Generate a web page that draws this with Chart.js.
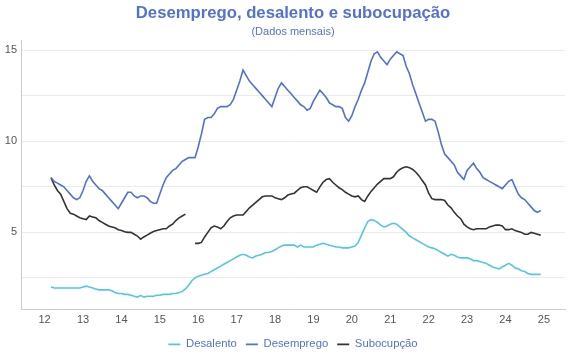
<!DOCTYPE html>
<html>
<head>
<meta charset="utf-8">
<script src="https://cdn.jsdelivr.net/npm/chart.js@4/dist/chart.umd.min.js"></script>
<style>
  html, body { margin: 0; padding: 0; background: #fff; }
  #wrap { width: 570px; height: 360px; position: relative; }
</style>
</head>
<body>
<div id="wrap"><canvas id="chart"></canvas></div>
<script>
// monthly series, Mar 2012 .. Dec 2024
const firstYear = 2012
const firstMonth = 3

const desalento = [
  2.0, 1.95, 1.95, 1.95, 1.95, 1.95, 1.95, 1.95, 1.95, 1.95,                  // 2012
  2.0, 2.05, 2.0, 1.95, 1.9, 1.85, 1.85, 1.85, 1.85, 1.8, 1.7, 1.65,          // 2013
  1.65, 1.6, 1.6, 1.55, 1.5, 1.45, 1.55, 1.45, 1.5, 1.5, 1.5, 1.55,           // 2014
  1.55, 1.6, 1.6, 1.6, 1.65, 1.65, 1.7, 1.75, 1.9, 2.1, 2.35, 2.5,            // 2015
  2.6, 2.65, 2.7, 2.75, 2.85, 2.95, 3.05, 3.15, 3.25, 3.35, 3.45, 3.55,       // 2016
  3.65, 3.75, 3.8, 3.75, 3.65, 3.6, 3.7, 3.75, 3.8, 3.9, 3.9, 3.95,           // 2017
  4.05, 4.15, 4.25, 4.3, 4.3, 4.3, 4.3, 4.2, 4.3, 4.2, 4.2, 4.2,              // 2018
  4.2, 4.3, 4.35, 4.4, 4.35, 4.3, 4.25, 4.2, 4.2, 4.15, 4.15, 4.15,           // 2019
  4.2, 4.25, 4.45, 4.85, 5.25, 5.6, 5.7, 5.65, 5.55, 5.4, 5.3, 5.35,          // 2020
  5.45, 5.5, 5.45, 5.3, 5.15, 5.0, 4.8, 4.7, 4.6, 4.5, 4.4, 4.3,              // 2021
  4.2, 4.15, 4.1, 4.0, 3.9, 3.8, 3.7, 3.8, 3.75, 3.65, 3.6, 3.6,              // 2022
  3.6, 3.55, 3.45, 3.45, 3.4, 3.35, 3.3, 3.2, 3.1, 3.05, 3.0, 3.1,            // 2023
  3.2, 3.3, 3.2, 3.05, 3.0, 2.9, 2.85, 2.75, 2.7, 2.7, 2.7, 2.7               // 2024
]

const desemprego = [
  8.0, 7.8, 7.7, 7.6, 7.5, 7.3, 7.1, 6.9, 6.8, 6.9,                           // 2012
  7.3, 7.8, 8.1, 7.8, 7.6, 7.4, 7.3, 7.1, 6.9, 6.7, 6.5, 6.3,                 // 2013
  6.6, 6.9, 7.2, 7.2, 7.0, 6.9, 7.0, 7.0, 6.9, 6.7, 6.6, 6.6,                 // 2014
  7.1, 7.6, 8.0, 8.2, 8.4, 8.5, 8.7, 8.9, 9.0, 9.1, 9.1, 9.1,                 // 2015
  9.7, 10.4, 11.2, 11.3, 11.3, 11.5, 11.8, 11.9, 11.9, 11.9, 12.0, 12.3,      // 2016
  12.8, 13.3, 13.9, 13.6, 13.3, 13.1, 12.9, 12.7, 12.5, 12.3, 12.1, 11.9,     // 2017
  12.4, 12.9, 13.2, 13.0, 12.8, 12.6, 12.4, 12.2, 12.0, 11.9, 11.7, 11.8,     // 2018
  12.2, 12.5, 12.8, 12.6, 12.4, 12.1, 12.0, 11.9, 11.9, 11.8, 11.3, 11.1,     // 2019
  11.4, 11.9, 12.3, 12.8, 13.2, 13.8, 14.4, 14.8, 14.9, 14.6, 14.4, 14.2,     // 2020
  14.5, 14.7, 14.9, 14.8, 14.7, 14.1, 13.7, 13.1, 12.6, 12.1, 11.6, 11.1,     // 2021
  11.2, 11.2, 11.1, 10.5, 9.8, 9.3, 9.1, 8.9, 8.7, 8.3, 8.1, 7.9,             // 2022
  8.4, 8.6, 8.8, 8.5, 8.3, 8.0, 7.9, 7.8, 7.7, 7.6, 7.5, 7.4,                 // 2023
  7.6, 7.8, 7.9, 7.5, 7.1, 6.9, 6.8, 6.6, 6.4, 6.2, 6.1, 6.2                  // 2024
]

const subocupacao = [
  8.0, 7.6, 7.3, 7.1, 6.7, 6.3, 6.05, 6.0, 5.9, 5.8,                          // 2012
  5.75, 5.7, 5.9, 5.85, 5.8, 5.65, 5.55, 5.45, 5.35, 5.3, 5.25, 5.15,         // 2013
  5.1, 5.03, 5.0, 5.0, 4.9, 4.8, 4.63, 4.75, 4.85, 4.95, 5.05, 5.1,           // 2014
  5.15, 5.2, 5.2, 5.35, 5.45, 5.65, 5.8, 5.9, 6.0, null, null, 4.4,           // 2015
  4.4, 4.45, 4.75, 5.0, 5.25, 5.35, 5.3, 5.2, 5.35, 5.6, 5.8, 5.9,            // 2016
  5.95, 5.95, 5.95, 6.15, 6.35, 6.5, 6.65, 6.8, 6.95, 7.0, 7.0, 7.0,          // 2017
  6.9, 6.85, 6.8, 6.9, 7.05, 7.1, 7.15, 7.3, 7.45, 7.5, 7.5, 7.4,             // 2018
  7.3, 7.2, 7.5, 7.75, 7.9, 7.95, 7.75, 7.6, 7.45, 7.35, 7.2, 7.1,            // 2019
  7.0, 6.95, 7.0, 6.8, 6.7, 7.0, 7.25, 7.45, 7.65, 7.8, 7.95, 7.95,           // 2020
  7.95, 8.05, 8.3, 8.45, 8.55, 8.6, 8.55, 8.45, 8.3, 8.1, 7.85, 7.6,          // 2021
  7.15, 6.85, 6.8, 6.8, 6.8, 6.75, 6.5, 6.35, 6.1, 5.9, 5.75, 5.45,           // 2022
  5.3, 5.2, 5.15, 5.2, 5.2, 5.2, 5.2, 5.3, 5.35, 5.4, 5.4, 5.35,              // 2023
  5.15, 5.15, 5.2, 5.1, 5.05, 5.0, 4.9, 4.9, 5.0, 4.95, 4.9, 4.85             // 2024
]

const yearTicks = [2012, 2013, 2014, 2015, 2016, 2017, 2018, 2019, 2020, 2021, 2022, 2023, 2024, 2025]
const yearLabels = ['12', '13', '14', '15', '16', '17', '18', '19', '20', '21', '22', '23', '24', '25']
const yGrid = [2.5, 5, 7.5, 10, 12.5, 15]
const yLabels = {5: '5', 10: '10', 15: '15'}

// month categories -> decimal year position
let months = []
for (let i = 0; i < desemprego.length; i++) {
  let m = firstMonth - 1 + i
  months.push(firstYear + Math.floor(m / 12) + (m % 12) / 12)
}
const pts = arr => arr.map((v, i) => ({x: months[i], y: v}))

const titleBlue = '#5371d3'
const font = 'Liberation Sans, Arial, sans-serif'

// center title, subtitle and legend over the plot area instead of the whole canvas
const centerOnPlot = {
  id: 'centerOnPlot',
  afterLayout(chart) {
    chart.boxes.forEach(b => {
      if (!(b instanceof Chart.Scale)) {
        b.left = chart.chartArea.left
        b.right = chart.chartArea.right
      }
    })
  }
}

let chart = new Chart(document.getElementById('chart').getContext('2d'), {
  type: 'line',
  data: {
    datasets: [
      {label: 'Desalento', data: pts(desalento), borderColor: '#52c8e0', backgroundColor: '#52c8e0', borderWidth: 1.6, pointRadius: 0, fill: false, tension: 0},
      {label: 'Desemprego', data: pts(desemprego), borderColor: '#5070d6', backgroundColor: '#5070d6', borderWidth: 1.6, pointRadius: 0, fill: false, tension: 0},
      {label: 'Subocupção', data: pts(subocupacao), borderColor: '#333333', backgroundColor: '#333333', borderWidth: 1.6, pointRadius: 0, fill: false, tension: 0, spanGaps: false}
    ]
  },
  options: {
    responsive: true,
    maintainAspectRatio: false,
    animation: false,
    layout: {padding: {left: 0, right: 5, top: 0, bottom: 0}},
    plugins: {
      title: {
        display: true,
        text: 'Desemprego, desalento e subocupação',
        color: titleBlue,
        font: {family: font, size: 16.7, weight: 'bold'},
        padding: {top: 3, bottom: 2}
      },
      subtitle: {
        display: true,
        text: '(Dados mensais)',
        color: titleBlue,
        font: {family: font, size: 11},
        padding: {top: 0, bottom: 1.8}
      },
      legend: {
        position: 'bottom',
        labels: {
          color: titleBlue,
          font: {family: font, size: 11.3},
          usePointStyle: true,
          pointStyle: 'line',
          pointStyleWidth: 12,
          boxHeight: 11,
          padding: 9
        }
      },
      tooltip: {enabled: false}
    },
    scales: {
      x: {
        type: 'linear',
        min: 2011.385,
        max: 2025.55,
        afterBuildTicks: s => { s.ticks = yearTicks.map(v => ({value: v})) },
        afterFit: s => { s.height = 20 },
        ticks: {
          color: '#555',
          font: {family: font, size: 11},
          padding: 4,
          maxRotation: 0,
          autoSkip: false,
          callback: (v, i) => yearLabels[i]
        },
        grid: {display: false, drawTicks: false},
        border: {display: true, color: '#cccccc'}
      },
      y: {
        min: 0.76,
        max: 15.55,
        afterBuildTicks: s => { s.ticks = yGrid.map(v => ({value: v})) },
        afterFit: s => { s.width = 21 },
        ticks: {
          color: '#555',
          font: {family: font, size: 11},
          padding: 4,
          autoSkip: false,
          callback: v => yLabels[v] || ''
        },
        grid: {color: '#ebebeb', drawTicks: false},
        border: {display: true, color: '#cccccc'}
      }
    }
  },
  plugins: [centerOnPlot]
})
</script>
</body>
</html>
